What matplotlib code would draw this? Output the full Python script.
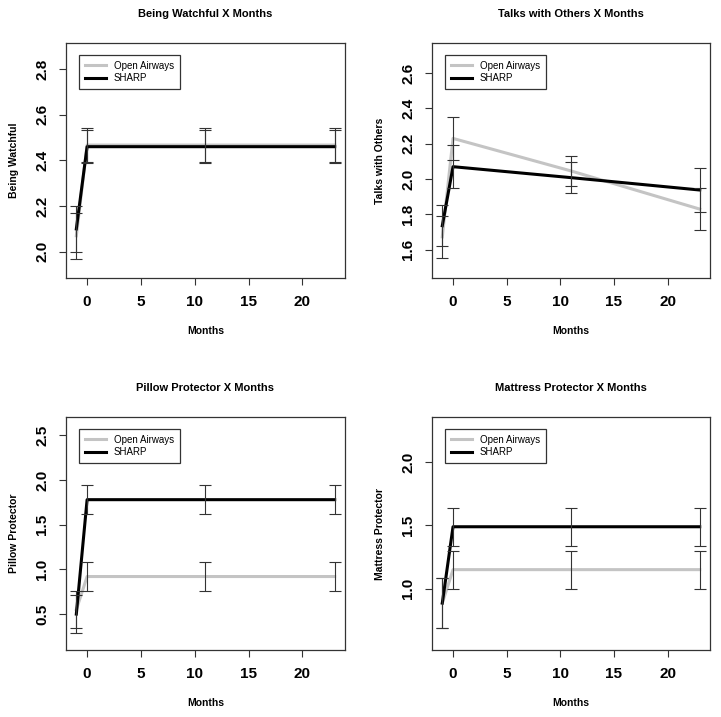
import numpy as np
import matplotlib
matplotlib.use('Agg')
import matplotlib.pyplot as plt

plt.rcParams['font.family'] = ['Liberation Sans', 'DejaVu Sans']

# Data
months = [-1, 0, 11, 23]
groups = ['Open Airways', 'SHARP']

watch_open = [2.07, 2.467, 2.467, 2.467]
watch_open_se = [0.10, 0.073, 0.073, 0.073]
watch_sharp = [2.10, 2.46, 2.46, 2.46]
watch_sharp_se = [0.10, 0.073, 0.073, 0.073]

talk_open = [1.673, 2.23, 2.046, 1.83]
talk_open_se = [0.117, 0.12, 0.084, 0.121]
talk_sharp = [1.736, 2.07, 2.008, 1.938]
talk_sharp_se = [0.117, 0.12, 0.088, 0.123]

pillow_open = [0.55, 0.92, 0.92, 0.92]
pillow_open_se = [0.21, 0.16, 0.16, 0.16]
pillow_sharp = [0.50, 1.78, 1.78, 1.78]
pillow_sharp_se = [0.21, 0.16, 0.16, 0.16]

mattress_open = [0.885, 1.15, 1.15, 1.15]
mattress_open_se = [0.20, 0.15, 0.15, 0.15]
mattress_sharp = [0.885, 1.49, 1.49, 1.49]
mattress_sharp_se = [0.20, 0.15, 0.15, 0.15]

panels = [
    ('Being Watchful X Months', 'Being Watchful', watch_open, watch_open_se,
     watch_sharp, watch_sharp_se, (1.885, 2.914), [2.0, 2.2, 2.4, 2.6, 2.8]),
    ('Talks with Others X Months', 'Talks with Others', talk_open, talk_open_se,
     talk_sharp, talk_sharp_se, (1.44, 2.77), [1.6, 1.8, 2.0, 2.2, 2.4, 2.6]),
    ('Pillow Protector X Months', 'Pillow Protector', pillow_open, pillow_open_se,
     pillow_sharp, pillow_sharp_se, (0.098, 2.705), [0.5, 1.0, 1.5, 2.0, 2.5]),
    ('Mattress Protector X Months', 'Mattress Protector', mattress_open, mattress_open_se,
     mattress_sharp, mattress_sharp_se, (0.513, 2.36), [1.0, 1.5, 2.0]),
]

W, H = 721, 717
fig = plt.figure(figsize=(W / 100, H / 100), dpi=100)

# axes boxes in pixels: left, top, right, bottom
boxes = [(66, 43, 345, 278), (432, 43, 710, 278),
         (66, 417, 345, 650), (432, 417, 710, 650)]

grey = '#c4c4c4'
for (title, ylab, o, ose, s, sse, ylim, yticks), (l, t, r, b) in zip(panels, boxes):
    ax = fig.add_axes([l / W, 1 - b / H, (r - l) / W, (b - t) / H])
    ax.plot(months, o, color=grey, lw=2.2, label=groups[0], zorder=2)
    ax.plot(months, s, color='black', lw=2.2, label=groups[1], zorder=3)
    ax.errorbar(months, o, yerr=ose, fmt='none', ecolor='#333333',
                elinewidth=0.8, capsize=4.3, capthick=0.8, zorder=4)
    ax.errorbar(months, s, yerr=sse, fmt='none', ecolor='#333333',
                elinewidth=0.8, capsize=4.3, capthick=0.8, zorder=4)

    ax.set_xlim(-1.96, 23.96)
    ax.set_ylim(*ylim)
    ax.set_xticks([0, 5, 10, 15, 20])
    ax.set_yticks(yticks)
    ax.set_yticklabels([f'{v:.1f}' for v in yticks], rotation=90, va='center')
    ax.tick_params(direction='out', length=5, width=0.8, pad=7,
                   labelsize=11, color='#333333')
    for lab in ax.get_xticklabels() + ax.get_yticklabels():
        lab.set_fontweight('bold')
    for sp in ax.spines.values():
        sp.set_linewidth(0.9)
        sp.set_color('#333333')

    # titles and axis labels placed like the original R layout
    cx = (l + r) / 2 / W
    fig.text(cx, 1 - (t - 29) / H, title, fontsize=8, fontweight='bold',
             ha='center', va='center')
    fig.text(cx, 1 - (b + 53) / H, 'Months', fontsize=7.5, fontweight='bold',
             ha='center', va='center')
    fig.text((l - 52) / W, 1 - (t + b) / 2 / H, ylab, fontsize=7.5,
             fontweight='bold', ha='center', va='center', rotation=90)

    leg = ax.legend(loc='upper left',
                    bbox_to_anchor=(13 / (r - l), 1 - 12 / (b - t)),
                    borderaxespad=0, fontsize=7, frameon=True, fancybox=False,
                    edgecolor='#333333', framealpha=1, handlelength=2.2,
                    borderpad=0.6, labelspacing=0.25, handletextpad=0.8)
    leg.get_frame().set_linewidth(0.9)

fig.savefig('out.png', dpi=100)
